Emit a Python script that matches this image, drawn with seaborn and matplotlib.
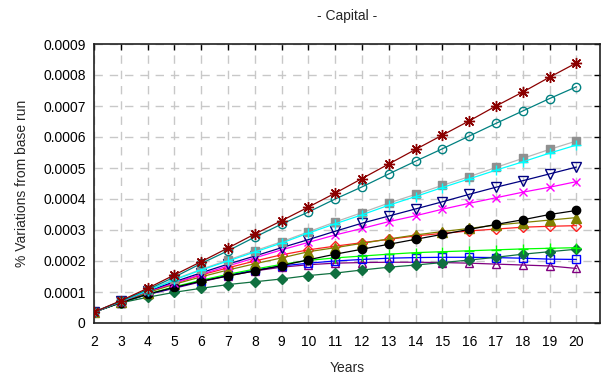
import matplotlib
matplotlib.use("Agg")
import matplotlib.pyplot as plt
import seaborn as sns
import pandas as pd
import numpy as np

years = list(range(2, 21))

s_darkred = [0.35,0.72,1.12,1.55,1.98,2.42,2.87,3.30,3.74,4.19,4.66,5.13,5.60,6.06,6.52,7.00,7.45,7.93,8.39]
s_teal    = [0.35,0.70,1.08,1.48,1.92,2.33,2.77,3.19,3.58,4.00,4.39,4.81,5.22,5.62,6.03,6.44,6.84,7.24,7.62]
s_gray    = [0.35,0.70,1.05,1.41,1.73,2.03,2.33,2.62,2.94,3.26,3.56,3.87,4.15,4.44,4.72,5.02,5.31,5.60,5.87]
s_cyan    = [0.35,0.70,1.04,1.39,1.71,2.00,2.29,2.58,2.90,3.20,3.49,3.80,4.08,4.37,4.65,4.93,5.20,5.48,5.74]
s_navy    = [0.35,0.70,1.03,1.33,1.62,1.90,2.16,2.43,2.69,2.96,3.22,3.45,3.68,3.91,4.15,4.38,4.59,4.81,5.03]
s_magenta = [0.35,0.69,1.02,1.29,1.57,1.84,2.10,2.36,2.60,2.84,3.05,3.27,3.46,3.67,3.86,4.04,4.22,4.38,4.56]
s_black   = [0.35,0.66,0.93,1.15,1.35,1.52,1.68,1.85,2.04,2.22,2.38,2.54,2.70,2.86,3.02,3.18,3.33,3.50,3.63]
s_olive   = [0.35,0.68,0.98,1.25,1.49,1.71,1.91,2.10,2.30,2.43,2.57,2.71,2.84,2.95,3.05,3.16,3.24,3.32,3.40]
s_red     = [0.35,0.68,1.00,1.28,1.55,1.78,2.00,2.20,2.36,2.48,2.59,2.70,2.81,2.89,2.97,3.03,3.09,3.12,3.14]
s_lime    = [0.35,0.66,0.93,1.17,1.38,1.57,1.74,1.89,2.02,2.10,2.16,2.22,2.27,2.30,2.33,2.36,2.39,2.41,2.43]
s_seagrn  = [0.35,0.65,0.83,0.99,1.12,1.24,1.33,1.42,1.53,1.61,1.71,1.80,1.87,1.95,2.03,2.12,2.22,2.30,2.38]
s_blue    = [0.35,0.66,0.92,1.14,1.35,1.54,1.71,1.84,1.93,2.00,2.05,2.09,2.11,2.12,2.12,2.11,2.09,2.06,2.05]
s_purple  = [0.35,0.66,0.92,1.12,1.33,1.52,1.68,1.80,1.88,1.93,1.95,1.96,1.96,1.95,1.93,1.90,1.87,1.84,1.76]

sns.set_style("white")
plt.rcParams['font.family'] = ['Liberation Sans', 'DejaVu Sans']

fig = plt.figure(figsize=(6.03, 3.80), dpi=100)
ax = fig.add_axes([94/603, 1 - 323/380, (600 - 94)/603, (323 - 44)/380])

# (values, line color, marker, marker face, marker edge, marker size)
series = [
    (s_purple,  '#800080', '^', 'none',    '#800080', 6),
    (s_blue,    '#0000ff', 's', 'none',    '#0000ff', 6),
    (s_seagrn,  '#107040', 'D', '#107040', '#107040', 5),
    (s_lime,    '#00ff00', '+', '#00ff00', '#00ff00', 7),
    (s_red,     '#ff2020', 'D', 'none',    '#ff2020', 5),
    (s_olive,   '#808000', '^', '#808000', '#808000', 7),
    (s_black,   '#000000', 'o', '#000000', '#000000', 6),
    (s_magenta, '#ff00ff', 'x', '#ff00ff', '#ff00ff', 6),
    (s_navy,    '#000080', 'v', 'none',    '#000080', 7),
    (s_gray,    '#b8b8b8', 's', '#909090', '#909090', 6),
    (s_cyan,    '#00ffff', '+', '#00ffff', '#00ffff', 7),
    (s_teal,    '#008080', 'o', 'none',    '#008080', 6),
    (s_darkred, '#8b0000', (8, 2, 0), '#8b0000', '#8b0000', 8),
]

for vals, col, mk, mfc, mec, ms in series:
    df = pd.DataFrame({'Years': years, 'val': np.array(vals) * 1e-4})
    sns.lineplot(data=df, x='Years', y='val', ax=ax, color=col, linewidth=0.9,
                 marker=mk, markersize=ms, markerfacecolor=mfc,
                 markeredgecolor=mec, markeredgewidth=1.0, zorder=3)

ax.set_xlim(2, 2 + (600 - 94) / 26.8)
ax.set_ylim(0, 0.0009)
ax.set_xticks(years)
ax.set_yticks(np.arange(0, 0.00091, 0.0001))
ax.set_yticklabels(['0'] + [f'{v:.4f}' for v in np.arange(0.0001, 0.00091, 0.0001)])
ax.grid(True, color='#c8c8c8', linestyle=(0, (6, 5)), linewidth=1.0)
ax.tick_params(direction='in', top=True, right=True, length=4, width=1,
               labelsize=10, colors='black')
ax.tick_params(axis='x', pad=9)
ax.tick_params(axis='y', pad=6)
for sp in ax.spines.values():
    sp.set_color('#202020')
    sp.set_linewidth(1.2)
    sp.set_visible(True)

ax.set_xlabel('Years', fontsize=10, labelpad=8)
ax.set_ylabel('% Variations from base run', fontsize=10, labelpad=10)
ax.set_title('- Capital -', fontsize=10, pad=17)

fig.savefig('out.png', dpi=100)
